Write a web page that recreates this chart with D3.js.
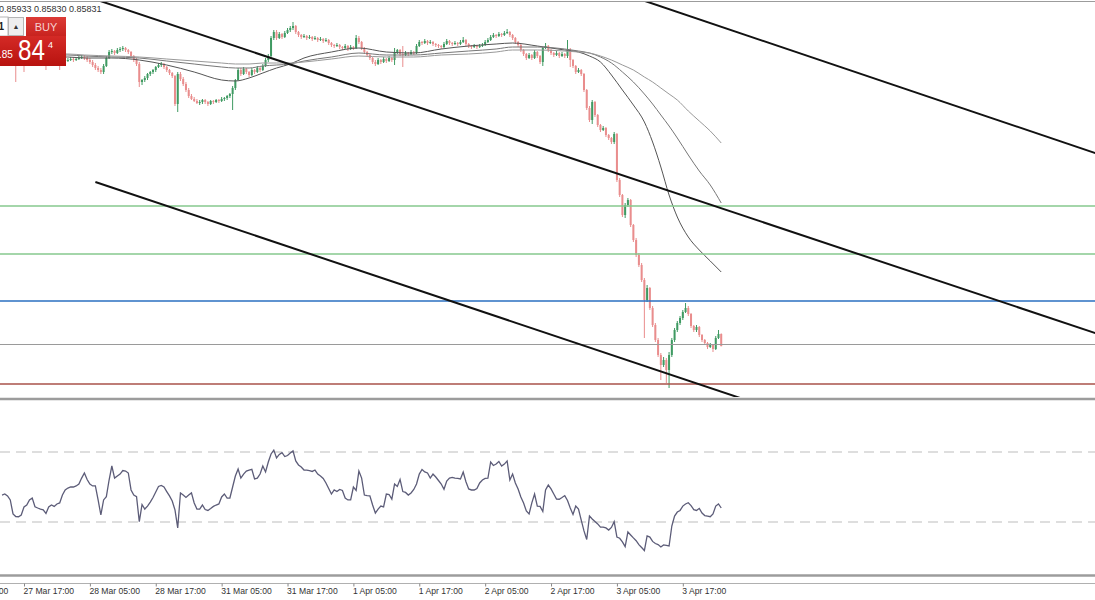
<!DOCTYPE html>
<html><head><meta charset="utf-8">
<script src="https://cdn.jsdelivr.net/npm/d3@7"></script>
<style>body{margin:0;background:#fff;overflow:hidden}svg{display:block}</style>
</head><body><svg id="chart" width="1095" height="600"></svg>
<script>
// ---- DATA (USDCHF M30, bar index 0 = 27 Mar 13:00) ----
const opens=[0.88112,0.8812,0.88112,0.88128,0.88104,0.88096,0.88088,0.88104,0.8812,0.88112,
0.8812,0.88136,0.88128,0.8812,0.88104,0.88112,0.8812,0.88112,0.88104,0.88112,
0.8812,0.88112,0.88104,0.88112,0.8812,0.8812,0.88128,0.8812,0.88128,0.88136,
0.88144,0.88136,0.8812,0.88104,0.8808,0.88056,0.8804,0.88024,0.88072,0.88136,
0.88184,0.88192,0.88176,0.882,0.88208,0.88216,0.882,0.88184,0.88152,0.8812,
0.88088,0.87944,0.8796,0.87976,0.88008,0.88024,0.8804,0.88064,0.8808,0.88088,
0.88064,0.8804,0.88016,0.87992,0.87768,0.88008,0.87968,0.87928,0.8788,0.87832,
0.87808,0.87792,0.87776,0.87784,0.878,0.87784,0.87768,0.87792,0.87784,0.878,
0.87792,0.87808,0.87816,0.87832,0.87848,0.87896,0.8796,0.8804,0.88008,0.88048,
0.88024,0.88,0.8804,0.88024,0.88056,0.8804,0.88072,0.8812,0.88152,0.88296,
0.88344,0.88296,0.88328,0.88304,0.88336,0.8836,0.88376,0.88392,0.88344,0.8832,
0.88304,0.88312,0.88296,0.88304,0.88288,0.88296,0.8828,0.88288,0.88272,0.8828,
0.88256,0.8824,0.88232,0.8824,0.88224,0.88216,0.88232,0.88208,0.88224,0.88216,
0.88296,0.88264,0.88216,0.88184,0.8816,0.88136,0.88104,0.88088,0.8812,0.88104,
0.88128,0.88112,0.88136,0.8812,0.88184,0.882,0.88168,0.8816,0.88176,0.88168,
0.88184,0.88176,0.88232,0.88264,0.88256,0.88272,0.88256,0.88264,0.88248,0.8824,
0.88232,0.88224,0.88248,0.88272,0.88256,0.88248,0.88256,0.88248,0.88264,0.8828,
0.88248,0.88232,0.88224,0.88232,0.88224,0.88232,0.8824,0.88264,0.8828,0.88304,
0.8832,0.88312,0.88328,0.8832,0.88336,0.88344,0.8832,0.88296,0.88264,0.8824,
0.882,0.88168,0.88136,0.8816,0.88136,0.88184,0.88152,0.88104,0.88216,0.88232,
0.882,0.88176,0.8816,0.88176,0.88152,0.88168,0.88152,0.882,0.8812,0.88072,
0.88024,0.8804,0.88008,0.8788,0.87736,0.8764,0.87784,0.8768,0.876,0.8756,
0.87576,0.8752,0.87496,0.87464,0.87528,0.8716,0.8704,0.8688,0.8696,0.87,
0.868,0.8668,0.8656,0.8648,0.8636,0.862,0.86296,0.86136,0.86,0.8588,
0.8576,0.8568,0.8572,0.8564,0.8576,0.8588,0.8596,0.86016,0.86056,0.86104,
0.86136,0.86088,0.85992,0.8596,0.85984,0.8592,0.8588,0.85856,0.85824,0.8584,
0.85808,0.85896,0.85928];
const highs=[0.88136,0.88136,0.88144,0.88144,0.8812,0.88112,0.8812,0.88136,0.88136,0.88136,
0.88152,0.88152,0.88144,0.88136,0.88128,0.88136,0.88136,0.88128,0.88128,0.88136,
0.88136,0.88128,0.88128,0.88136,0.88136,0.88144,0.88144,0.88144,0.88152,0.8816,
0.8816,0.88152,0.88136,0.8812,0.88096,0.88072,0.88056,0.88088,0.88152,0.882,
0.88208,0.882,0.88216,0.88224,0.88232,0.88224,0.88208,0.88192,0.8816,0.88136,
0.88104,0.87968,0.87992,0.88016,0.88032,0.88048,0.88072,0.88096,0.88104,0.88096,
0.88072,0.88048,0.88024,0.88,0.88024,0.88024,0.87984,0.87944,0.87896,0.87848,
0.87824,0.87808,0.878,0.87808,0.87808,0.87792,0.878,0.878,0.87808,0.87808,
0.87824,0.87824,0.8784,0.87856,0.87912,0.87968,0.88056,0.88056,0.88064,0.88056,
0.88032,0.88056,0.88048,0.88072,0.88064,0.88088,0.88136,0.88168,0.88312,0.8836,
0.8836,0.88344,0.88336,0.88352,0.88376,0.88392,0.88424,0.884,0.88352,0.88328,
0.88328,0.8832,0.8832,0.88312,0.88312,0.88304,0.88304,0.88296,0.88296,0.88288,
0.88264,0.88248,0.88256,0.88248,0.88232,0.88248,0.8824,0.8824,0.88232,0.8832,
0.88312,0.88272,0.88224,0.88192,0.88168,0.88144,0.8812,0.88136,0.88128,0.88144,
0.88136,0.88152,0.88144,0.88216,0.88208,0.88208,0.88232,0.88192,0.88184,0.882,
0.88192,0.88248,0.8828,0.88272,0.88288,0.8828,0.8828,0.88272,0.88256,0.88248,
0.8824,0.88264,0.88288,0.8828,0.88264,0.88272,0.88264,0.8828,0.88304,0.88288,
0.88256,0.8824,0.88248,0.8824,0.88248,0.88256,0.8828,0.88296,0.8832,0.88336,
0.88328,0.88344,0.88336,0.88352,0.88368,0.88352,0.88328,0.88304,0.88272,0.88248,
0.88208,0.88176,0.88176,0.88168,0.882,0.88192,0.8816,0.88224,0.88256,0.8824,
0.88208,0.88184,0.88192,0.88184,0.88184,0.88176,0.8828,0.88216,0.88128,0.8808,
0.88056,0.88048,0.88016,0.87888,0.87752,0.878,0.87792,0.87688,0.87608,0.87592,
0.87584,0.87528,0.87504,0.87544,0.87536,0.87176,0.87048,0.86976,0.87016,0.87008,
0.86808,0.86696,0.86576,0.86496,0.86376,0.8632,0.86304,0.86152,0.86016,0.85896,
0.85776,0.85744,0.85736,0.85784,0.85896,0.85976,0.86032,0.86072,0.8612,0.86176,
0.86152,0.86096,0.86,0.86,0.85992,0.85928,0.85888,0.85864,0.85856,0.85848,
0.85912,0.8596,0.85933];
const lows=[0.88096,0.88096,0.88096,0.88088,0.8808,0.87944,0.88072,0.88088,0.88024,0.88096,
0.88104,0.88112,0.88104,0.88088,0.88088,0.88096,0.8804,0.88088,0.88088,0.88096,
0.88096,0.8804,0.88088,0.88096,0.88104,0.88112,0.88104,0.88112,0.8812,0.88128,
0.8812,0.88104,0.88088,0.88064,0.8804,0.88024,0.88008,0.88008,0.88064,0.88128,
0.88168,0.8816,0.88168,0.88184,0.88192,0.88184,0.88168,0.88136,0.88104,0.88072,
0.87904,0.8792,0.87944,0.8796,0.87992,0.88008,0.88024,0.88056,0.88064,0.88048,
0.88024,0.88,0.87976,0.87752,0.87704,0.87952,0.87912,0.87864,0.87816,0.878,
0.87784,0.87768,0.8776,0.87768,0.87768,0.87752,0.8776,0.87768,0.87776,0.87776,
0.87784,0.87792,0.878,0.87816,0.8772,0.8788,0.87952,0.87992,0.88,0.88008,
0.87984,0.87992,0.88008,0.88016,0.88024,0.88032,0.88064,0.88104,0.88144,0.8828,
0.8828,0.88288,0.88288,0.88296,0.88328,0.88344,0.8836,0.88328,0.88304,0.88288,
0.88296,0.8828,0.88288,0.88272,0.8828,0.88264,0.88272,0.88256,0.88264,0.8824,
0.88224,0.88216,0.88224,0.88208,0.882,0.88208,0.88192,0.882,0.882,0.88208,
0.88248,0.882,0.88168,0.88144,0.8812,0.88088,0.88072,0.8808,0.88088,0.88096,
0.88096,0.88104,0.88104,0.8808,0.88168,0.88152,0.88064,0.88152,0.88152,0.8816,
0.8816,0.88168,0.88224,0.8824,0.88248,0.8824,0.88248,0.88232,0.88224,0.88216,
0.88208,0.88216,0.8824,0.8824,0.88232,0.8824,0.88232,0.8824,0.88256,0.88232,
0.88216,0.88208,0.88216,0.88208,0.88216,0.88224,0.88232,0.88256,0.88272,0.88296,
0.88296,0.88304,0.88304,0.88312,0.88328,0.88304,0.8828,0.88248,0.88224,0.88184,
0.88152,0.8812,0.88128,0.8812,0.88128,0.88136,0.88088,0.88072,0.88208,0.88184,
0.8816,0.88144,0.88152,0.88136,0.88144,0.88136,0.88136,0.88064,0.88056,0.88008,
0.88016,0.87992,0.87864,0.8772,0.87624,0.87608,0.87664,0.87584,0.87544,0.87552,
0.87504,0.8748,0.87448,0.87448,0.87144,0.87024,0.86864,0.86856,0.86944,0.86784,
0.86664,0.86544,0.86464,0.86344,0.85896,0.86184,0.8612,0.85984,0.85864,0.85744,
0.8556,0.85664,0.85536,0.85496,0.85744,0.85864,0.85944,0.86,0.8604,0.86096,
0.86072,0.85976,0.85944,0.85944,0.85904,0.85864,0.8584,0.85808,0.85816,0.85784,
0.858,0.85888,0.8583];
const closes=[0.8812,0.88112,0.88128,0.88104,0.88096,0.88088,0.88104,0.8812,0.88112,0.8812,
0.88136,0.88128,0.8812,0.88104,0.88112,0.8812,0.88112,0.88104,0.88112,0.8812,
0.88112,0.88104,0.88112,0.8812,0.8812,0.88128,0.8812,0.88128,0.88136,0.88144,
0.88136,0.8812,0.88104,0.8808,0.88056,0.8804,0.88024,0.88072,0.88136,0.88184,
0.88192,0.88176,0.882,0.88208,0.88216,0.882,0.88184,0.88152,0.8812,0.88088,
0.87944,0.8796,0.87976,0.88008,0.88024,0.8804,0.88064,0.8808,0.88088,0.88064,
0.8804,0.88016,0.87992,0.87768,0.88008,0.87968,0.87928,0.8788,0.87832,0.87808,
0.87792,0.87776,0.87784,0.878,0.87784,0.87768,0.87792,0.87784,0.878,0.87792,
0.87808,0.87816,0.87832,0.87848,0.87896,0.8796,0.8804,0.88008,0.88048,0.88024,
0.88,0.8804,0.88024,0.88056,0.8804,0.88072,0.8812,0.88152,0.88296,0.88344,
0.88296,0.88328,0.88304,0.88336,0.8836,0.88376,0.88392,0.88344,0.8832,0.88304,
0.88312,0.88296,0.88304,0.88288,0.88296,0.8828,0.88288,0.88272,0.8828,0.88256,
0.8824,0.88232,0.8824,0.88224,0.88216,0.88232,0.88208,0.88224,0.88216,0.88296,
0.88264,0.88216,0.88184,0.8816,0.88136,0.88104,0.88088,0.8812,0.88104,0.88128,
0.88112,0.88136,0.8812,0.88184,0.882,0.88168,0.8816,0.88176,0.88168,0.88184,
0.88176,0.88232,0.88264,0.88256,0.88272,0.88256,0.88264,0.88248,0.8824,0.88232,
0.88224,0.88248,0.88272,0.88256,0.88248,0.88256,0.88248,0.88264,0.8828,0.88248,
0.88232,0.88224,0.88232,0.88224,0.88232,0.8824,0.88264,0.8828,0.88304,0.8832,
0.88312,0.88328,0.8832,0.88336,0.88344,0.8832,0.88296,0.88264,0.8824,0.882,
0.88168,0.88136,0.8816,0.88136,0.88184,0.88152,0.88104,0.88216,0.88232,0.882,
0.88176,0.8816,0.88176,0.88152,0.88168,0.88152,0.882,0.8812,0.88072,0.88024,
0.8804,0.88008,0.8788,0.87736,0.8764,0.87784,0.8768,0.876,0.8756,0.87576,
0.8752,0.87496,0.87464,0.87528,0.8716,0.8704,0.8688,0.8696,0.87,0.868,
0.8668,0.8656,0.8648,0.8636,0.862,0.86296,0.86136,0.86,0.8588,0.8576,
0.8568,0.8572,0.8564,0.8576,0.8588,0.8596,0.86016,0.86056,0.86104,0.86136,
0.86088,0.85992,0.8596,0.85984,0.8592,0.8588,0.85856,0.85824,0.8584,0.85808,
0.85896,0.85928,0.85831];

// moving averages, sampled at bar indices
const maIdx=[0,24,30,40,50,60,70,80,85,90,95,100,105,110,120,130,140,150,160,170,180,186,195,205,210,214,218,222,226,230,234,237,240,243,246,250,254,258,262];
const maFast=[0.88144,0.88144,0.88136,0.88136,0.8812,0.8808,0.88024,0.8796,0.87952,0.87976,0.88016,0.88056,0.88088,0.88136,0.88184,0.88216,0.88184,0.88176,0.88208,0.88232,0.88248,0.88256,0.88232,0.882,0.88184,0.88152,0.88104,0.88,0.8788,0.8776,0.87624,0.87464,0.87264,0.8704,0.86864,0.86704,0.866,0.86512,0.86424];
const maMid=[0.8816,0.8816,0.88152,0.88144,0.88136,0.88112,0.88088,0.88064,0.88056,0.88056,0.88072,0.8808,0.88088,0.88112,0.88144,0.88176,0.8816,0.8816,0.88176,0.88192,0.88208,0.88224,0.88224,0.88208,0.88192,0.88176,0.88144,0.88096,0.88024,0.87944,0.87848,0.87768,0.8768,0.87592,0.87496,0.8736,0.87232,0.8712,0.86976];
const maSlow=[0.88168,0.88168,0.8816,0.88152,0.88144,0.88128,0.88112,0.88096,0.88088,0.88088,0.88096,0.88096,0.88096,0.88104,0.88128,0.88152,0.88144,0.88144,0.8816,0.88168,0.88184,0.882,0.882,0.88192,0.88184,0.88176,0.88152,0.8812,0.8808,0.8804,0.87984,0.87944,0.87896,0.87848,0.878,0.87712,0.87632,0.87552,0.87456];

// RSI per bar
const rsi=[45.4,46.0,44.9,42.6,34.6,33.1,33.0,34.0,38.6,39.7,
42.6,43.7,38.7,38.0,37.4,36.9,34.9,38.6,39.7,38.9,
40.3,40.9,45.4,48.3,49.4,50.0,50.0,50.6,51.7,55.1,
58.0,54.3,51.7,50.6,50.6,42.6,34.0,42.6,44.5,54.0,
62.0,55.1,56.3,57.4,59.4,59.1,58.0,48.3,45.4,44.5,
30.2,40.0,37.4,39.1,41.4,44.0,47.1,50.3,50.9,50.0,
47.4,44.9,42.0,36.9,26.6,46.6,45.4,44.0,45.4,46.6,
40.9,37.4,37.4,39.7,37.1,36.6,37.7,38.9,39.7,40.3,
44.3,46.0,43.7,43.7,50.0,56.3,60.3,55.1,57.4,59.1,
59.7,60.1,54.6,55.1,57.4,62.0,58.6,64.3,68.9,71.1,
66.6,68.6,69.6,67.4,68.0,69.4,70.6,64.9,62.6,61.4,
59.7,59.7,59.4,58.9,59.7,57.4,56.3,54.9,52.3,49.1,
46.0,48.3,47.4,48.6,48.0,43.7,42.6,42.6,50.0,48.0,
59.1,55.1,45.4,45.1,44.9,39.7,35.1,37.4,39.1,38.6,
46.0,45.7,43.1,51.7,50.3,54.3,47.4,46.9,45.4,46.6,
48.6,51.7,57.4,60.0,58.6,58.0,55.1,57.4,55.7,53.7,
51.7,48.7,53.4,55.1,55.5,55.1,54.9,54.6,58.6,53.0,
48.9,48.3,48.3,49.1,52.3,54.0,54.9,55.0,64.3,62.3,
63.1,64.6,62.0,63.1,64.9,54.0,57.4,52.3,48.9,44.3,
40.9,36.3,34.6,40.9,46.0,39.1,38.9,36.0,48.3,51.1,
48.9,46.0,43.1,43.0,44.0,45.1,42.3,38.0,34.3,39.1,
37.4,31.1,24.9,20.0,33.4,31.7,30.3,28.9,27.1,27.1,
26.6,25.4,26.9,30.2,21.4,20.7,18.6,15.9,24.3,22.6,
20.9,19.3,17.1,15.4,13.7,22.0,21.4,18.9,17.7,17.1,
15.7,16.9,16.6,16.3,27.7,33.4,35.7,36.6,39.1,40.3,
41.0,39.4,37.1,36.6,37.8,35.1,33.7,33.4,33.0,34.6,
39.1,40.3,38.0];
const rsiLevels=[70,30];

const levels=[0.86952,0.86568,0.86192,0.85844,0.85528];
// trend lines: [barIndex, price] anchors
const trendA=[[40,0.88561],[380,0.86069]];
const trendB=[[240,0.88549],[390,0.87437]];
const trendC=[[34,0.87144],[250,0.85555]];

const tickIdx=[-16,8,32,56,80,104,128,152,176,200,224,248];
const tickLabels=["27 Mar 05:00","27 Mar 17:00","28 Mar 05:00","28 Mar 17:00","31 Mar 05:00","31 Mar 17:00","1 Apr 05:00","1 Apr 17:00","2 Apr 05:00","2 Apr 17:00","3 Apr 05:00","3 Apr 17:00"];
const ohlcText="0.85933 0.85830 0.85831";
const bidParts=[".85","84","4"];
const lotText="1";

// ---- STYLE ----
const W=1095,H=600;
const FONT="'Liberation Sans', Arial, sans-serif";
const UP="#3f9a62", DOWN="#e98d8d";
const levelColors=["#86c98e","#86c98e","#2a6fc0","#9a9a9a","#a8524a"];
const levelWidths=[1.4,1.4,1.6,1,1.4];
const maColors=["#555","#777","#999"];

const svg=d3.select("#chart");
const defs=svg.append("defs");
defs.append("clipPath").attr("id","mainClip").append("rect").attr("x",0).attr("y",2).attr("width",W).attr("height",395);
defs.append("clipPath").attr("id","rsiClip").append("rect").attr("x",0).attr("y",401).attr("width",W).attr("height",173);

const x=d3.scaleLinear().domain([0,262]).range([2.04,2.04+262*2.745]);
const y=d3.scaleLinear().domain([0.85424,0.88584]).range([397,2]);
const yr=d3.scaleLinear().domain([0,100]).range([574.5,399.5]);

svg.append("rect").attr("width",W).attr("height",H).attr("fill","#fff");

// frame lines
svg.append("line").attr("x1",0).attr("x2",W).attr("y1",1.5).attr("y2",1.5).attr("stroke","#9c9c9c").attr("stroke-width",1);
svg.append("line").attr("x1",0).attr("x2",W).attr("y1",399).attr("y2",399).attr("stroke","#9c9c9c").attr("stroke-width",2.5);
svg.append("line").attr("x1",0).attr("x2",W).attr("y1",575.5).attr("y2",575.5).attr("stroke","#9c9c9c").attr("stroke-width",2.5);
svg.append("line").attr("x1",0).attr("x2",W).attr("y1",583.5).attr("y2",583.5).attr("stroke","#b0b0b0").attr("stroke-width",1);

const main=svg.append("g").attr("clip-path","url(#mainClip)");

// candles
const idx=d3.range(opens.length);
const cg=main.append("g");
cg.selectAll("line.wick").data(idx).join("line").attr("class","wick")
  .attr("x1",i=>x(i)).attr("x2",i=>x(i))
  .attr("y1",i=>y(highs[i])).attr("y2",i=>y(lows[i]))
  .attr("stroke",i=>closes[i]>=opens[i]?UP:DOWN).attr("stroke-width",1);
cg.selectAll("rect.body").data(idx).join("rect").attr("class","body")
  .attr("x",i=>x(i)-1).attr("width",2)
  .attr("y",i=>y(Math.max(opens[i],closes[i])))
  .attr("height",i=>Math.max(1,Math.abs(y(opens[i])-y(closes[i]))))
  .attr("fill",i=>closes[i]>=opens[i]?UP:DOWN);

// moving averages
[maFast,maMid,maSlow].forEach((arr,k)=>{
  const ln=d3.line().x((d,j)=>x(maIdx[j])).y(d=>y(d)).curve(d3.curveMonotoneX);
  main.append("path").attr("d",ln(arr)).attr("fill","none").attr("stroke",maColors[k]).attr("stroke-width",1);
});

// horizontal levels
main.selectAll("line.lvl").data(levels).join("line").attr("class","lvl")
  .attr("x1",0).attr("x2",W).attr("y1",d=>y(d)).attr("y2",d=>y(d))
  .attr("stroke",(d,k)=>levelColors[k]).attr("stroke-width",(d,k)=>levelWidths[k]);

// trend lines
function priceAt(tl,t){const [[i1,p1],[i2,p2]]=tl;return p1+(p2-p1)*(t-i1)/(i2-i1);}
function drawTrend(tl,from){
  const t0=from, t1=420;
  main.append("line").attr("x1",x(t0)).attr("y1",y(priceAt(tl,t0)))
    .attr("x2",x(t1)).attr("y2",y(priceAt(tl,t1)))
    .attr("stroke","#111").attr("stroke-width",2);
}
drawTrend(trendA,-10);
drawTrend(trendB,150);
drawTrend(trendC,trendC[0][0]);

// RSI panel
const rg=svg.append("g").attr("clip-path","url(#rsiClip)");
rg.selectAll("line.rl").data(rsiLevels).join("line").attr("class","rl")
  .attr("x1",0).attr("x2",W).attr("y1",d=>yr(d)).attr("y2",d=>yr(d))
  .attr("stroke","#bdbdbd").attr("stroke-width",1).attr("stroke-dasharray","10,6");
rg.append("path").attr("d",d3.line().x((d,i)=>x(i)).y(d=>yr(d))(rsi))
  .attr("fill","none").attr("stroke","#5c5c78").attr("stroke-width",1.3);

// time axis
const axis=d3.axisBottom(x).tickValues(tickIdx).tickFormat((d,i)=>tickLabels[i]).tickSize(3).tickPadding(1);
const ag=svg.append("g").attr("transform","translate(0,583.5)").call(axis);
ag.select(".domain").remove();
ag.selectAll(".tick line").attr("stroke","#888");
ag.selectAll(".tick text").attr("text-anchor","start").attr("x",-1)
  .attr("fill","#333").style("font-family",FONT).style("font-size","8.6px");

// OHLC text
svg.append("text").attr("x",-1).attr("y",12).text(ohlcText)
  .attr("fill","#333").style("font-family",FONT).style("font-size","9px");

// one-click trading panel
const gBuy=defs.append("linearGradient").attr("id","gBuy").attr("x1",0).attr("x2",0).attr("y1",0).attr("y2",1);
gBuy.append("stop").attr("offset","0").attr("stop-color","#dc3b36");
gBuy.append("stop").attr("offset","1").attr("stop-color","#c8231f");
const gBig=defs.append("linearGradient").attr("id","gBig").attr("x1",0).attr("x2",0).attr("y1",0).attr("y2",1);
gBig.append("stop").attr("offset","0").attr("stop-color","#d42a26");
gBig.append("stop").attr("offset","1").attr("stop-color","#b8130f");

svg.append("rect").attr("x",-2).attr("y",17).attr("width",10).attr("height",19).attr("fill","#fff").attr("stroke","#b5b5b5");
svg.append("text").attr("x",-1.5).attr("y",30).text(lotText).attr("fill","#222").style("font-family",FONT).style("font-size","10px").style("font-weight","bold");
svg.append("rect").attr("x",8.5).attr("y",17.5).attr("width",15).attr("height",18).attr("fill","#eeeeee").attr("stroke","#b5b5b5");
svg.append("text").attr("x",16).attr("y",29).attr("text-anchor","middle").text("▲").attr("fill","#333").style("font-family",FONT).style("font-size","7px");
svg.append("rect").attr("x",26).attr("y",17).attr("width",40).attr("height",19).attr("fill","url(#gBuy)");
svg.append("text").attr("x",46).attr("y",31).attr("text-anchor","middle").text("BUY").attr("fill","#f6cfcf").style("font-family",FONT).style("font-size","11px");
svg.append("rect").attr("x",-2).attr("y",36).attr("width",68).attr("height",30).attr("fill","url(#gBig)");
svg.append("text").attr("x",-1).attr("y",58).text(bidParts[0]).attr("fill","#fff").style("font-family",FONT).style("font-size","10px");
svg.append("text").attr("x",18).attr("y",60).text(bidParts[1]).attr("fill","#fff").style("font-family",FONT).style("font-size","30px")
  .attr("textLength",27).attr("lengthAdjust","spacingAndGlyphs");
svg.append("text").attr("x",48).attr("y",48).text(bidParts[2]).attr("fill","#fff").style("font-family",FONT).style("font-size","9px");
</script>
</body></html>
